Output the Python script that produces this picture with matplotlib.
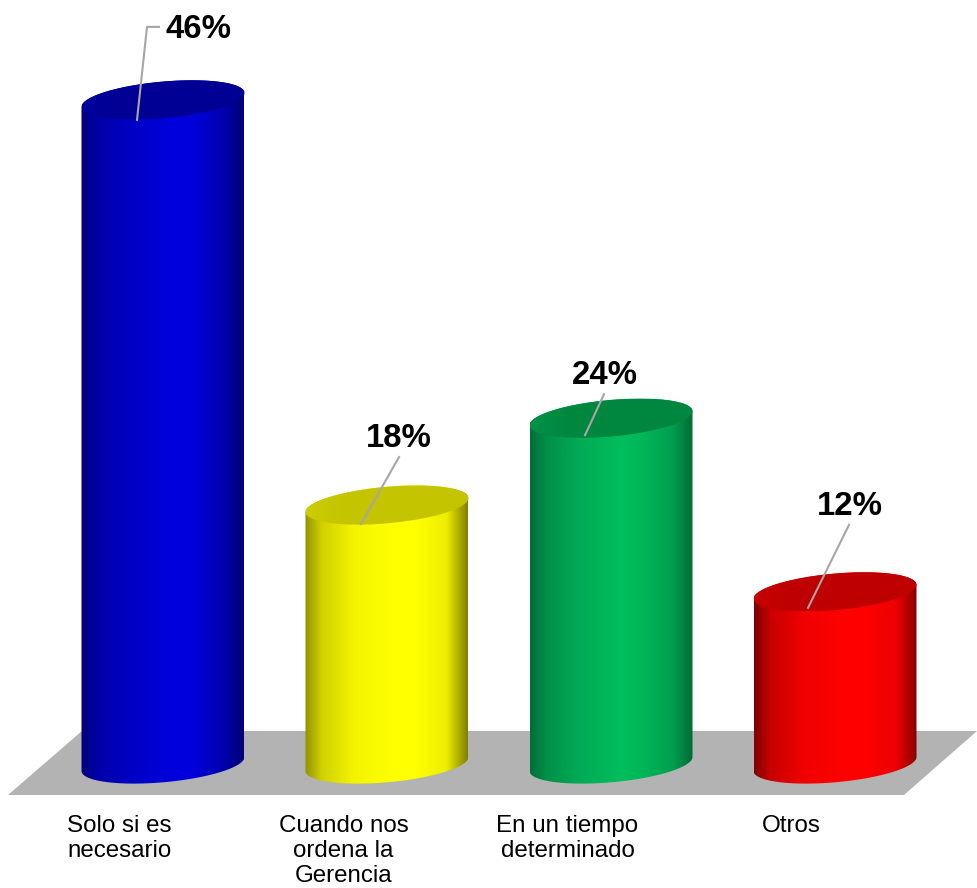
from matplotlib import pyplot as plt
from matplotlib.colors import LinearSegmentedColormap
from matplotlib.patches import Polygon
import numpy as np

categories = ['Solo si es\nnecesario', 'Cuando nos\nordena la\nGerencia', 'En un tiempo\ndeterminado', 'Otros']
values = [46, 18, 24, 12]
value_labels = ['46%', '18%', '24%', '12%']

side_colors = [['#00007c', '#0000a8', '#0000c4', '#0000dc', '#0000dc', '#0000b0', '#000078'],
               ['#929200', '#d0d000', '#f4f400', '#ffff00', '#ffff00', '#eeee00', '#7f7f00'],
               ['#006e38', '#009048', '#00ab55', '#00bd5c', '#00b858', '#00a050', '#006c36'],
               ['#800000', '#c80000', '#f00000', '#ff0000', '#ff0000', '#ee0000', '#8a0000']]
side_stops = [0, 0.1, 0.3, 0.55, 0.68, 0.87, 1]
top_left = ['#00009e', '#cccc00', '#009246', '#c80000']
top_main = ['#000094', '#c4c400', '#00873f', '#bf0000']

# size of one pixel in data units
PX_X = 1 / 224
PX_Y = 1 / 14.47
BASE = 0.104
WIDTH = 163 * PX_X


def ring(cx, cy, start, stop, n=80):
    # tilted ellipse that closes a cylinder, right end sits higher than the left
    t = np.linspace(start, stop, n)
    x = cx + WIDTH / 2 * np.cos(t)
    y = cy + (18.3 * np.sin(t) + 7 * np.cos(t)) * PX_Y
    return np.column_stack([x, y])


def gradient(ax, verts, colors, stops, zorder):
    cmap = LinearSegmentedColormap.from_list('g', list(zip(stops, colors)))
    clip = Polygon(verts, closed=True, transform=ax.transData, fc='none', ec='none')
    ax.add_patch(clip)
    x0, x1 = verts[:, 0].min(), verts[:, 0].max()
    y0, y1 = verts[:, 1].min(), verts[:, 1].max()
    im = ax.imshow(np.linspace(0, 1, 256).reshape(1, -1), cmap=cmap, aspect='auto',
                   extent=(x0, x1, y0, y1), interpolation='bilinear', zorder=zorder)
    im.set_clip_path(clip)


def draw_cylinder(ax, i):
    base = ring(i, BASE, np.pi, 2 * np.pi)
    top = ring(i, values[i], 0, np.pi)
    side = np.vstack([base, top])
    gradient(ax, side, side_colors[i], side_stops, 3)
    cap = ring(i, values[i], 0, 2 * np.pi, 160)
    gradient(ax, cap, [top_left[i], top_main[i], top_main[i]], [0, 0.25, 1], 4)


def main():
    fig = plt.figure(figsize=(9.77, 8.88), dpi=100)
    ax = fig.add_axes([0, 0, 1, 1])

    # floor of the plot
    floor_x = np.array([-0.692, 3.308, 3.634, -0.362])
    floor_y = np.array([BASE - 31 * PX_Y, BASE - 31 * PX_Y, BASE + 33 * PX_Y, BASE + 33 * PX_Y])
    ax.fill(floor_x, floor_y, color='#b3b3b3', lw=0, zorder=1)

    for i in range(len(values)):
        draw_cylinder(ax, i)

    # leader lines, start on the lower rim of each cap
    leaders = [[(-26, -20), (-16, 73), (-4, 73)],
               [(-26, -19), (12, 48)],
               [(-26, -17), (-7, 24)],
               [(-27, -16), (14, 67)]]
    for i, pts in enumerate(leaders):
        xs = [i + p[0] * PX_X for p in pts]
        ys = [values[i] + p[1] * PX_Y for p in pts]
        ax.plot(xs, ys, color='#a6a6a6', lw=1.5, zorder=5)

    label_dx = [36, 12, -6, 15]
    label_dy = [70, 66.5, 42.7, 85.4]
    for i, txt in enumerate(value_labels):
        ax.text(i + label_dx[i] * PX_X, values[i] + label_dy[i] * PX_Y, txt, ha='center', va='center',
                fontsize=23.7, fontweight='bold', family='Liberation Sans', color='black', zorder=6)

    for i, txt in enumerate(categories):
        ax.text(i - 43.5 * PX_X, BASE - 51 * PX_Y, txt, ha='center', va='top', fontsize=17.4,
                family='Liberation Sans', color='black', linespacing=1.19, multialignment='center')

    ax.set_xlim(-163 / 224, (977 - 163) / 224)
    ax.set_ylim(BASE - 124 * PX_Y, BASE + 764 * PX_Y)
    ax.axis('off')
    fig.savefig('out.png', dpi=100)


if __name__ == "__main__":
    main()
